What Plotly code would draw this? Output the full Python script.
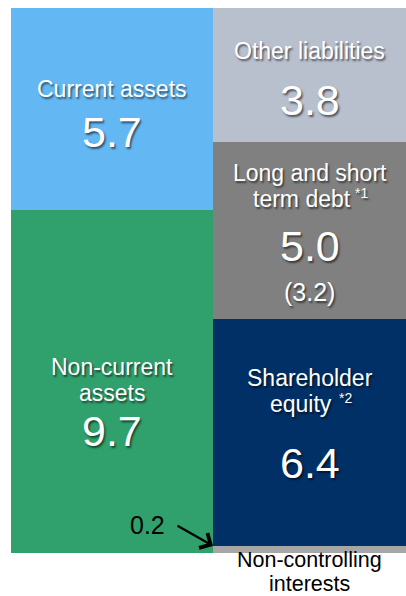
import plotly.graph_objects as go

# ---- data ----
asset_labels = ["Non-current assets", "Current assets"]
asset_values = [9.7, 5.7]
asset_colors = ["#30A06C", "#63B8F3"]

liab_labels = ["Non-controlling interests", "Shareholder equity", "Long and short term debt", "Other liabilities"]
liab_values = [0.2, 6.4, 5.0, 3.8]
liab_colors = ["#A6A6A6", "#003066", "#808080", "#B8BFCD"]
debt_interest_bearing = "(3.2)"
footnote_marks = ["*1", "*2"]

FONT = "Liberation Sans, Arial, sans-serif"
SHADOW = "1.5px 1.5px 2px rgba(0,0,0,0.55)"

# column geometry (x axis is in pixel-like units of the plot width)
LEFT_X, LEFT_W = 101, 202
RIGHT_X, RIGHT_W = 298.5, 193

fig = go.Figure()
for v, c in zip(asset_values, asset_colors):
    fig.add_trace(go.Bar(x=[LEFT_X], y=[v], width=[LEFT_W], marker=dict(color=c, line=dict(width=0)),
                         hoverinfo="skip", showlegend=False))
for v, c in zip(liab_values, liab_colors):
    fig.add_trace(go.Bar(x=[RIGHT_X], y=[v], width=[RIGHT_W], marker=dict(color=c, line=dict(width=0)),
                         hoverinfo="skip", showlegend=False))

def centers(vals):
    out, base = [], 0
    for v in vals:
        out.append(base + v / 2)
        base += v
    return out

ac = centers(asset_values)
lc = centers(liab_values)

def lab(x, y, text, size, shift, color="white", shadow=SHADOW, xshift=0, xanchor="center"):
    fig.add_annotation(x=x, y=y, text=text, showarrow=False, yshift=shift, xshift=xshift,
                       font=dict(family=FONT, size=size, color=color, shadow=shadow),
                       xanchor=xanchor, yanchor="middle")

LS, NS, SS = 23, 43, 14
# Non-current assets
lab(LEFT_X, ac[0], "Non-current", LS, 14)
lab(LEFT_X, ac[0], "assets", LS, -12)
lab(LEFT_X, ac[0], f"{asset_values[0]:.1f}", NS, -50)
# Current assets
lab(LEFT_X, ac[1], asset_labels[1], LS, 20)
lab(LEFT_X, ac[1], f"{asset_values[1]:.1f}", NS, -23)
# Other liabilities
lab(RIGHT_X, lc[3], liab_labels[3], LS, 24)
lab(RIGHT_X, lc[3], f"{liab_values[3]:.1f}", NS, -25)
# Debt
lab(RIGHT_X, lc[2], "Long and short", LS, 58)
lab(RIGHT_X, lc[2], "term debt", LS, 32, xshift=-8)
lab(RIGHT_X, lc[2], footnote_marks[0], SS, 38, xshift=43, xanchor="left")
lab(RIGHT_X, lc[2], f"{liab_values[2]:.1f}", NS, -15)
lab(RIGHT_X, lc[2], debt_interest_bearing, 25, -61)
# Equity
lab(RIGHT_X, lc[1], "Shareholder", LS, 55)
lab(RIGHT_X, lc[1], "equity", LS, 29, xshift=-9)
lab(RIGHT_X, lc[1], footnote_marks[1], SS, 35, xshift=27, xanchor="left")
lab(RIGHT_X, lc[1], f"{liab_values[1]:.1f}", NS, -30)
# Non-controlling interests
lab(RIGHT_X, 0, "Non-controlling", 21.5, -7, color="black", shadow="none")
lab(RIGHT_X, 0, "interests", 21.5, -31, color="black", shadow="none")
# 0.2 with arrow
fig.add_annotation(x=RIGHT_X - RIGHT_W / 2, y=liab_values[0], text="", showarrow=True,
                   ax=-37, ay=-21, arrowhead=4, arrowsize=1.5, arrowwidth=2.2, arrowcolor="black",
                   standoff=0)
fig.add_annotation(x=RIGHT_X - RIGHT_W / 2, y=liab_values[0], text=f"{liab_values[0]:.1f}", showarrow=False,
                   xshift=-66, yshift=21, font=dict(family=FONT, size=25, color="black"),
                   xanchor="center", yanchor="middle")

fig.update_layout(
    width=406, height=596, barmode="stack", bargap=0,
    margin=dict(l=11, r=0, t=8, b=43),
    paper_bgcolor="white", plot_bgcolor="white",
    xaxis=dict(range=[0, 395], visible=False, fixedrange=True),
    yaxis=dict(range=[0, sum(asset_values)], visible=False, fixedrange=True),
)
fig.write_html("out.html", config={"displayModeBar": False},
               post_script="document.body.style.margin='0';document.body.style.overflow='hidden';")
